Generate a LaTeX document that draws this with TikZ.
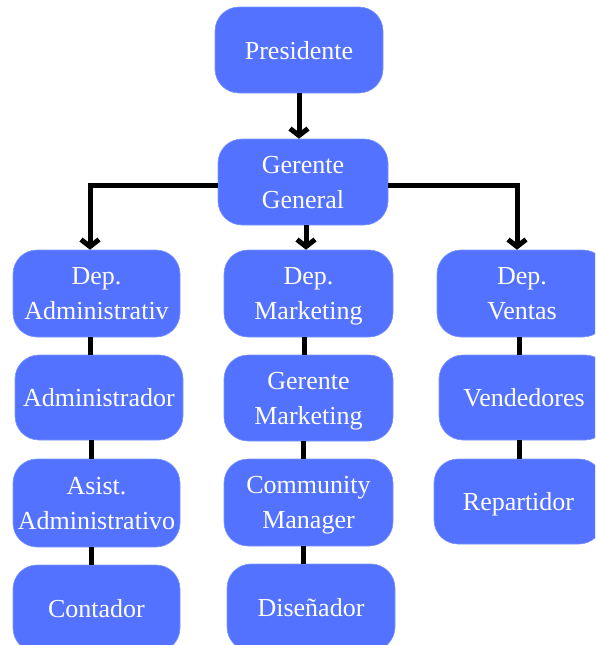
\documentclass[tikz,border=0pt]{standalone}
\usepackage{fontspec}
\setmainfont{Liberation Serif}
\usetikzlibrary{arrows.meta}
\definecolor{boxblue}{RGB}{82,114,255}
\definecolor{boxedge}{RGB}{125,150,255}
\tikzset{
  orgbox/.style={rectangle, rounded corners=24pt, fill=boxblue, draw=boxedge, line width=0.6pt,
    text=white, align=center, inner sep=0pt, text depth=0pt,
    font=\fontsize{26pt}{35pt}\selectfont},
  link/.style={line width=5pt, black},
  arr/.style={link, -{Straight Barb[length=7pt,width=18pt,line width=5pt]}, line join=miter}
}
\begin{document}
\begin{tikzpicture}[x=1pt,y=-1pt]
\useasboundingbox (0,0) rectangle (595,645);
\clip (0,0) rectangle (595,645);
\node[orgbox, minimum width=168pt, minimum height=86pt] (pres) at (299,50) {Presidente};
\node[orgbox, minimum width=170pt, minimum height=86pt] (gg) at (303,182) {Gerente\\General};
\node[orgbox, minimum width=167pt, minimum height=87pt] (da) at (96.5,293.5) {Dep.\\Administrativ};
\node[orgbox, minimum width=169pt, minimum height=87pt] (dm) at (308.5,293.5) {Dep.\\Marketing};
\node[orgbox, minimum width=170pt, minimum height=87pt] (dv) at (522,293.5) {Dep.\\Ventas};
\node[orgbox, minimum width=168pt, minimum height=85pt] (adm) at (99,397.5) {Administrador};
\node[orgbox, minimum width=169pt, minimum height=86pt] (gm) at (308.5,398) {Gerente\\Marketing};
\node[orgbox, minimum width=170pt, minimum height=85pt] (ven) at (524,397.5) {Vendedores};
\node[orgbox, minimum width=167pt, minimum height=88pt] (asi) at (96.5,503) {Asist.\\Administrativo};
\node[orgbox, minimum width=169pt, minimum height=87pt] (cm) at (308.5,502.5) {Community\\Manager};
\node[orgbox, minimum width=169pt, minimum height=85pt] (rep) at (518.5,501.5) {Repartidor};
\node[orgbox, minimum width=167pt, minimum height=87pt] (con) at (96.5,608.5) {Contador};
\node[orgbox, minimum width=168pt, minimum height=87pt] (dis) at (311,607.5) {Diseñador};
% arrows
\draw[arr] (pres.south) -- (pres.south |- gg.north);
\draw[arr] ([xshift=3pt]gg.south) -- ([xshift=3pt]gg.south |- dm.north);
\draw[arr] ([yshift=-3pt]gg.west) -| ([xshift=-6.5pt]da.north);
\draw[arr] ([yshift=-3pt]gg.east) -| ([xshift=-5pt]dv.north);
% links
\draw[link] ([xshift=-6.5pt]da.south) -- ([xshift=-6.5pt]da.south |- adm.north);
\draw[link] ([xshift=-8pt]adm.south) -- ([xshift=-8pt]adm.south |- asi.north);
\draw[link] ([xshift=-5pt]asi.south) -- ([xshift=-5pt]asi.south |- con.north);
\draw[link] ([xshift=-4.5pt]dm.south) -- ([xshift=-4.5pt]dm.south |- gm.north);
\draw[link] ([xshift=-5pt]gm.south) -- ([xshift=-5pt]gm.south |- cm.north);
\draw[link] ([xshift=-5pt]cm.south) -- ([xshift=-5pt]cm.south |- dis.north);
\draw[link] ([xshift=-3pt]dv.south) -- ([xshift=-3pt]dv.south |- ven.north);
\draw[link] ([xshift=-5pt]ven.south) -- ([xshift=-5pt]ven.south |- rep.north);
\end{tikzpicture}
\end{document}
